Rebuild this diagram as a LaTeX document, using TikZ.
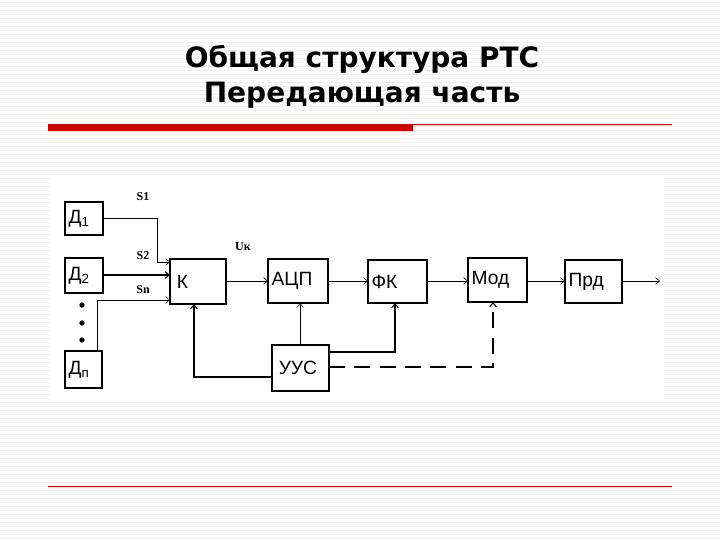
\documentclass[tikz,border=0pt]{standalone}
\usepackage{fontspec}
\setmainfont{DejaVu Sans}
\newfontfamily\boxfont{Liberation Sans}
\newfontfamily\lblfont{Liberation Serif}
\usetikzlibrary{arrows.meta}
\begin{document}
\begin{tikzpicture}[x=0.75pt,y=-0.75pt,
  lbl/.style={font=\lblfont\bfseries\small},
  con/.style={-{Straight Barb[length=3pt,width=5pt]}},
  bt/.style={font=\boxfont\Large,inner sep=1pt}]
\useasboundingbox (0,0) rectangle (720,540);
\fill[white] (0,0) rectangle (720,540);
\foreach \y in {2,6,...,538} \draw[black!6,line width=0.4pt] (0,\y) -- (720,\y);
\fill[white] (50,175) rectangle (665,402);
\node[font=\bfseries\fontsize{21}{26}\selectfont,align=center] (title) at (362,77) {Общая структура РТС\\Передающая часть};
\fill[red!80!black] (48,124) rectangle (413,131);
\draw[red!80!black,line width=0.6pt] (413,124.5) -- (672,124.5);
\draw[red!80!black,line width=0.6pt] (48,486) -- (672,486);
\newcommand{\bx}[6]{\draw[thick] (#2,#3) rectangle (#4,#5); \node[bt,anchor=west] (#1) at (#2+2,{(#3+#5)/2}) {#6};}
\bx{d1}{65}{202}{103}{235}{Д\textsubscript{1}}
\bx{d2}{65}{258}{103}{293}{Д\textsubscript{2}}
\bx{dn}{65}{351}{102}{388}{Д\textsubscript{п}}
\bx{k}{170}{259}{226}{304}{\,К}
\bx{adc}{268}{259}{328}{303}{АЦП}
\bx{fk}{368}{260}{427}{303}{ФК}
\bx{mod}{468}{258}{527}{302}{Мод}
\bx{prd}{565}{260}{622}{303}{Прд}
\bx{uus}{272}{345}{329}{391}{\,УУС}
\foreach \y in {305,323,340} \fill (82,\y) circle (2pt);
\coordinate (out) at (660,281);
\draw[con] (103,218) -- (157,218) -- (157,262) -- (170,262);
\draw[con,thick] (103,275) -- (170,275);
\draw[con] (97,351) -- (97,300) -- (170,300);
\draw[con] (226,281) -- (268,281);
\draw[con] (328,281) -- (368,281);
\draw[con] (427,281) -- (468,281);
\draw[con] (527,281) -- (565,281);
\draw[con] (622,281) -- (out);
\draw[con,thick] (272,377) -- (194,377) -- (194,304);
\draw[con] (300,345) -- (300,303);
\draw[con,thick] (329,352) -- (395,352) -- (395,303);
\draw[con,thick,dash pattern=on 12pt off 7pt] (329,367) -- (493,367) -- (493,302);
\node[lbl] (s1) at (143,197) {S1};
\node[lbl] (s2) at (143,256) {S2};
\node[lbl] (sn) at (143,290) {Sn};
\node[lbl] (uk) at (243,247) {Uк};
\end{tikzpicture}
\end{document}
